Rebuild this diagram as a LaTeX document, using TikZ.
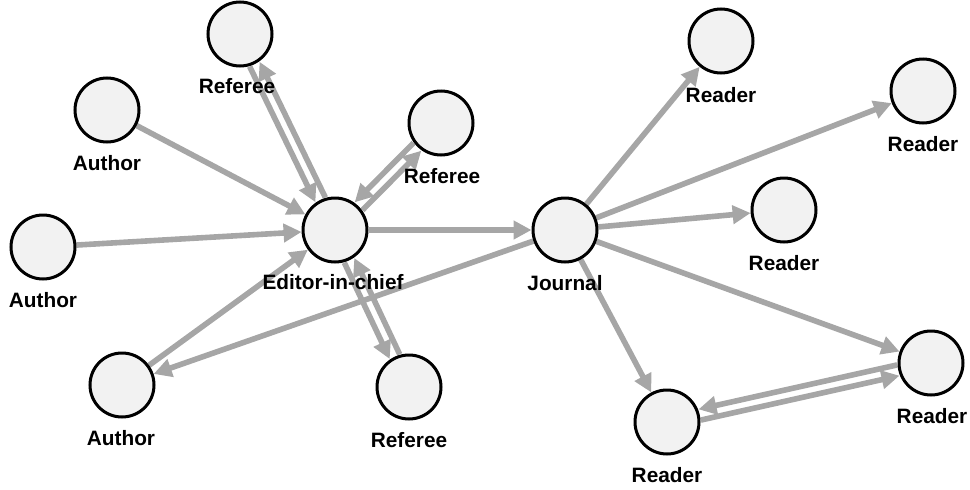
\documentclass[tikz,border=0pt]{standalone}
\usepackage{fontspec}
\setmainfont{Liberation Sans}
\usetikzlibrary{arrows.meta,calc}
\definecolor{edgegray}{HTML}{A6A6A6}
\definecolor{nodefill}{HTML}{F2F2F2}
\pgfdeclarelayer{bg}
\pgfsetlayers{bg,main}
\newcommand{\dblarrow}[2]{%
  \draw[arr] ($ ($(#1)!33.5pt!(#2)$)!5.5pt!-90:(#2) $) -- ($ ($(#2)!33.5pt!(#1)$)!5.5pt!90:(#1) $);
  \draw[arr] ($ ($(#2)!33.5pt!(#1)$)!5.5pt!-90:(#1) $) -- ($ ($(#1)!33.5pt!(#2)$)!5.5pt!90:(#2) $);}
\begin{document}
\begin{tikzpicture}[x=1pt,y=-1pt,
  actor/.style={circle,draw=black,line width=3pt,fill=nodefill,minimum size=64pt,inner sep=0pt},
  lbl/.style={anchor=base,font=\fontsize{20.8}{24}\selectfont\bfseries,inner sep=0pt},
  arr/.style={draw=edgegray,line width=5.6pt,-{Triangle[length=18pt,width=18pt]}}]
\useasboundingbox (0,0) rectangle (970,490);
% nodes
\node[actor] (refA) at (240,34) {};
\node[actor] (auth1) at (107,110) {};
\node[actor] (refB) at (441,123) {};
\node[actor] (auth2) at (43,247) {};
\node[actor] (ed) at (335,230) {};
\node[actor] (jour) at (565,230) {};
\node[actor] (auth3) at (122,385) {};
\node[actor] (refC) at (409,387) {};
\node[actor] (rd1) at (721,41) {};
\node[actor] (rd2) at (923,91) {};
\node[actor] (rd3) at (784,210) {};
\node[actor] (rd4) at (931,363) {};
\node[actor] (rd5) at (667,422) {};
% labels
\node[lbl] (lrefA) at (237,93) {Referee};
\node[lbl] (lauth1) at (107,170) {Author};
\node[lbl] (lrefB) at (442,183) {Referee};
\node[lbl] (lauth2) at (43,307) {Author};
\node[lbl] (led) at (333,289) {Editor-in-chief};
\node[lbl] (ljour) at (565,290) {Journal};
\node[lbl] (lauth3) at (121,445) {Author};
\node[lbl] (lrefC) at (409,447) {Referee};
\node[lbl] (lrd1) at (721,102) {Reader};
\node[lbl] (lrd2) at (923,151) {Reader};
\node[lbl] (lrd3) at (784,270) {Reader};
\node[lbl] (lrd4) at (932,423) {Reader};
\node[lbl] (lrd5) at (667,482) {Reader};
% edges
\begin{pgfonlayer}{bg}
\draw[arr] (auth1) -- (ed);
\draw[arr] (auth2) -- (ed);
\draw[arr] (auth3) -- (ed);
\draw[arr] (jour) -- (auth3);
\draw[arr] (ed) -- (jour);
\dblarrow{ed}{refA}
\dblarrow{ed}{refB}
\dblarrow{ed}{refC}
\draw[arr] (jour) -- (rd1);
\draw[arr] (jour) -- (rd2);
\draw[arr] (jour) -- (rd3);
\draw[arr] (jour) -- (rd4);
\draw[arr] (jour) -- (rd5);
\dblarrow{rd5}{rd4}
\end{pgfonlayer}
\end{tikzpicture}
\end{document}
